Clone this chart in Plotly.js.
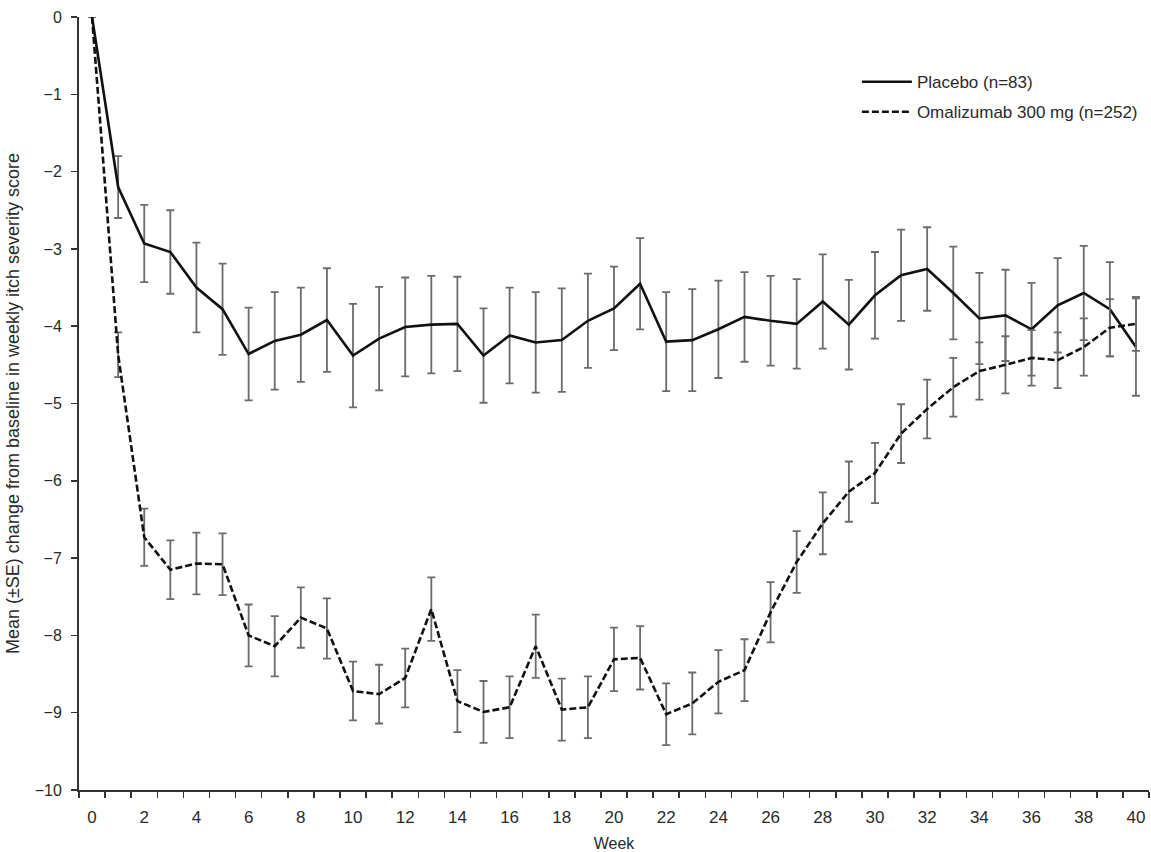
<!DOCTYPE html>
<html>
<head>
<meta charset="utf-8">
<script src="https://cdn.plot.ly/plotly-3.0.1.min.js"></script>
<style>
  html, body { margin: 0; padding: 0; background: #fff; }
  #chart { width: 1151px; height: 852px; }
</style>
</head>
<body>
<div id="chart"></div>
<script>
// Weeks of treatment / follow-up
const weeks = [0,1,2,3,4,5,6,7,8,9,10,11,12,13,14,15,16,17,18,19,20,
               21,22,23,24,25,26,27,28,29,30,31,32,33,34,35,36,37,38,39,40];

// Placebo (n=83): mean change from baseline and SE
const placeboMean = [0,-2.20,-2.93,-3.04,-3.50,-3.78,-4.36,-4.19,-4.11,-3.92,-4.38,
                     -4.16,-4.01,-3.98,-3.97,-4.38,-4.12,-4.21,-4.18,-3.93,-3.77,
                     -3.45,-4.20,-4.18,-4.04,-3.88,-3.93,-3.97,-3.68,-3.98,-3.60,
                     -3.34,-3.26,-3.57,-3.90,-3.86,-4.04,-3.73,-3.57,-3.78,-4.27];
const placeboSE   = [0,0.40,0.50,0.54,0.58,0.59,0.60,0.63,0.61,0.67,0.67,
                     0.67,0.64,0.63,0.61,0.61,0.62,0.65,0.67,0.61,0.54,
                     0.59,0.64,0.66,0.63,0.58,0.58,0.58,0.61,0.58,0.56,
                     0.59,0.54,0.60,0.59,0.59,0.60,0.61,0.61,0.61,0.63];

// Omalizumab 300 mg (n=252): mean change from baseline and SE
const omaMean = [0,-4.37,-6.73,-7.15,-7.07,-7.08,-8.00,-8.14,-7.77,-7.91,-8.72,
                 -8.76,-8.55,-7.66,-8.85,-8.99,-8.93,-8.14,-8.96,-8.93,-8.31,
                 -8.29,-9.02,-8.88,-8.60,-8.45,-7.70,-7.05,-6.55,-6.14,-5.90,
                 -5.39,-5.07,-4.79,-4.58,-4.50,-4.41,-4.44,-4.27,-4.02,-3.97];
const omaSE   = [0,0.29,0.37,0.38,0.40,0.40,0.40,0.39,0.39,0.39,0.38,
                 0.38,0.38,0.41,0.40,0.40,0.40,0.41,0.40,0.40,0.41,
                 0.41,0.40,0.40,0.41,0.40,0.39,0.40,0.40,0.39,0.39,
                 0.38,0.38,0.38,0.37,0.37,0.36,0.36,0.37,0.37,0.35];

const xTickVals = [0,2,4,6,8,10,12,14,16,18,20,22,24,26,28,30,32,34,36,38,40];
const yTickVals = [0,-1,-2,-3,-4,-5,-6,-7,-8,-9,-10];

const seriesNames = ['Placebo (n=83)', 'Omalizumab 300 mg (n=252)'];
const axisTitles = {
  x: 'Week',
  y: 'Mean (\u00B1SE) change from baseline in weekly itch severity score'
};

const FONT = '"Liberation Sans", Arial, Helvetica, sans-serif';
const TEXT = '#2a2a2a';
const ERR = '#6b6b6b';

const traces = [
  {
    x: weeks, y: placeboMean, name: seriesNames[0], type: 'scatter', mode: 'lines',
    legendgroup: 'a',
    line: { color: '#111', width: 2.6 },
    error_y: { type: 'data', array: placeboSE, visible: true, color: ERR, thickness: 1.8, width: 4 }
  },
  {
    x: weeks, y: omaMean, name: seriesNames[1], type: 'scatter', mode: 'lines',
    legendgroup: 'b',
    line: { color: '#111', width: 2.6, dash: '7px,3px' },
    error_y: { type: 'data', array: omaSE, visible: true, color: ERR, thickness: 1.8, width: 4 }
  }
];

const layout = {
  width: 1151, height: 852,
  paper_bgcolor: '#fff', plot_bgcolor: '#fff',
  margin: { l: 79, r: 2, t: 17, b: 62 },
  font: { family: FONT, color: TEXT, size: 16 },
  showlegend: true,
  legend: {
    x: 0.727, y: 0.939, xanchor: 'left', yanchor: 'top',
    font: { family: FONT, size: 17, color: TEXT },
    bgcolor: 'rgba(0,0,0,0)', borderwidth: 0,
    traceorder: 'grouped', tracegroupgap: 5, itemwidth: 50
  },
  xaxis: {
    range: [-0.5, 40.5],
    tickmode: 'array', tickvals: xTickVals, ticktext: xTickVals.map(String),
    ticks: 'outside', ticklen: 6, tickcolor: 'rgba(0,0,0,0)',
    ticklabelstandoff: 5,
    minor: { tickmode: 'linear', tick0: -0.5, dtick: 1, ticks: 'outside', ticklen: 6, tickwidth: 1.5, tickcolor: '#333', showgrid: false },
    showline: true, linecolor: '#333', linewidth: 2,
    showgrid: false, zeroline: false,
    tickfont: { family: FONT, size: 17, color: TEXT },
    title: { text: axisTitles.x, font: { family: FONT, size: 16, color: TEXT }, standoff: 11 }
  },
  yaxis: {
    range: [-10, 0],
    tickmode: 'array', tickvals: yTickVals,
    ticks: 'outside', ticklen: 6, tickwidth: 1.5, tickcolor: '#333',
    ticklabelstandoff: 6,
    showline: true, linecolor: '#333', linewidth: 2,
    showgrid: false, zeroline: false,
    tickfont: { family: FONT, size: 16, color: TEXT },
    title: { text: axisTitles.y, font: { family: FONT, size: 18, color: TEXT }, standoff: 10 }
  }
};

Plotly.newPlot('chart', traces, layout, { displayModeBar: false, staticPlot: true });
</script>
</body>
</html>
